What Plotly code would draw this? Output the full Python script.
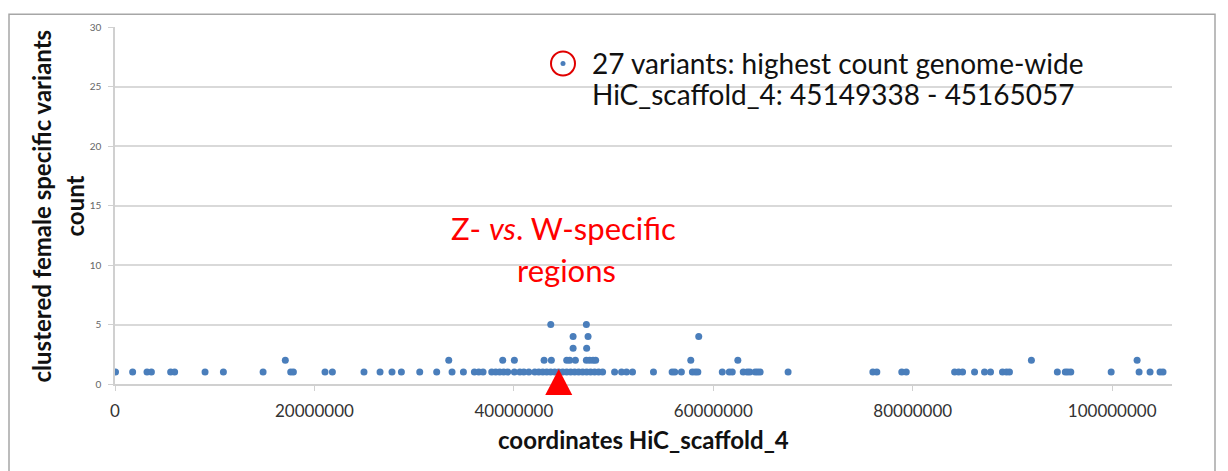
import numpy as np
import plotly.graph_objects as go

# ---- data (positions in Mb) ----
count1_mb = [0.05, 1.77, 3.21, 3.65, 5.58, 5.98, 9.03, 10.87, 14.85, 17.62, 17.89,
             21.06, 21.8, 24.97, 26.58, 27.78, 28.72, 30.56, 32.26, 33.8, 34.94,
             36.04, 36.48, 36.91, 37.78, 38.18, 38.58, 38.98, 39.38, 40.05, 40.6,
             41.0, 41.5, 42.1, 42.5, 42.9, 43.3, 43.7, 44.1, 44.5, 44.9, 45.3,
             45.7, 46.1, 46.5, 46.9, 47.3, 47.7, 48.1, 48.5, 48.9,
             50.1, 50.8, 51.3, 51.9, 54.0, 55.87, 56.14, 56.8, 57.9, 58.2, 58.45,
             60.9, 61.6, 61.9, 63.0, 63.4, 63.66, 64.2, 64.45, 64.7, 67.5,
             76.0, 76.4, 78.9, 79.35,
             84.2, 84.6, 85.0, 86.2, 87.2, 87.8, 89.0, 89.4, 89.7,
             94.5, 95.3, 95.55, 95.85, 99.9, 102.7, 103.8, 104.8, 105.1]
count2_mb = [17.08, 33.47, 38.88, 40.05, 43.03, 43.76, 45.3, 45.6, 46.17, 47.27,
             47.6, 47.94, 48.2, 57.74, 62.46, 91.9, 102.5]
count3_mb = [45.94, 47.3]
count4_mb = [45.94, 47.44, 58.54]
count5_mb = [43.7, 47.27]

x_ticks = [0, 20000000, 40000000, 60000000, 80000000, 100000000]
y_ticks = [0, 5, 10, 15, 20, 25, 30]
x_max = 106000000
zw_marker_pos = 44500000

highlight_line1 = "27 variants: highest count genome-wide"
highlight_line2 = "HiC_scaffold_4: 45149338 - 45165057"

groups = [(1, count1_mb), (2, count2_mb), (3, count3_mb), (4, count4_mb), (5, count5_mb)]
xs, ys = [], []
for c, arr in groups:
    xs.extend(np.array(arr) * 1e6)
    ys.extend([c] * len(arr))

FONT = "Lato"
BLUE = "#4a7ebb"

fig = go.Figure()
fig.add_trace(go.Scatter(x=xs, y=ys, mode="markers",
                         marker=dict(color=BLUE, size=7), showlegend=False,
                         hoverinfo="x+y"))

fig.update_layout(
    width=1220, height=463,
    margin=dict(l=107, r=56, t=14, b=87),
    paper_bgcolor="white", plot_bgcolor="white",
    font=dict(family=FONT, color="#222"),
    xaxis=dict(range=[0, x_max], tickvals=x_ticks,
               ticktext=[str(v) for v in x_ticks],
               showgrid=False, zeroline=False,
               showline=True, linecolor="#d0d0d0", linewidth=1.5,
               ticks="outside", ticklen=5, tickcolor="#d0d0d0",
               ticklabelstandoff=6,
               tickfont=dict(size=17, color="#333", family=FONT)),
    yaxis=dict(range=[0, 30], tickvals=y_ticks,
               showgrid=True, gridcolor="#d9d9d9", gridwidth=1.5,
               zeroline=False, showline=True, linecolor="#d0d0d0", linewidth=1.5,
               ticks="outside", ticklen=5, tickcolor="#d0d0d0",
               ticklabelstandoff=5,
               tickfont=dict(size=10, color="#666", family=FONT)),
)

# page-pixel -> paper helpers (plot area spans page x 115..1172, y 22..384)
def px_x(p):
    return (p - 115) / 1057.0

def px_y(p):
    return (384 - p) / 362.0

annos = [
    dict(text="<b>clustered female specific variants</b>", x=px_x(41), y=px_y(204),
         textangle=-90, font=dict(size=24, color="#111")),
    dict(text="<b>count</b>", x=px_x(74), y=px_y(204), textangle=-90,
         font=dict(size=24, color="#111")),
    dict(text="<b>coordinates HiC_scaffold_4</b>", x=px_x(643), y=px_y(440),
         font=dict(size=24, color="#111")),
    dict(text=highlight_line1, x=px_x(590), y=px_y(58), xanchor="left",
         font=dict(size=28, color="#111")),
    dict(text=highlight_line2, x=px_x(590), y=px_y(90), xanchor="left",
         font=dict(size=28, color="#111")),
    dict(text="Z- <i>vs</i>. W-specific", x=px_x(563), y=px_y(226),
         font=dict(size=31, color="#ff0000")),
    dict(text="regions", x=px_x(566), y=px_y(268),
         font=dict(size=31, color="#ff0000")),
]
for a in annos:
    a.update(xref="paper", yref="paper", showarrow=False)
    a.setdefault("xanchor", "center")
    a.setdefault("yanchor", "middle")
fig.update_layout(annotations=annos)

shapes = [
    # outer frame
    dict(type="rect", xref="paper", yref="paper",
         x0=px_x(9), x1=px_x(1215), y0=px_y(520), y1=px_y(9),
         line=dict(color="#a6a6a6", width=1.5), fillcolor="rgba(0,0,0,0)"),
    # red circle with dot
    dict(type="circle", xref="paper", yref="paper", xsizemode="pixel", ysizemode="pixel",
         xanchor=px_x(563), yanchor=px_y(59), x0=-12, x1=12, y0=-12, y1=12,
         line=dict(color="#e00000", width=2)),
    dict(type="circle", xref="paper", yref="paper", xsizemode="pixel", ysizemode="pixel",
         xanchor=px_x(563), yanchor=px_y(59), x0=-2.5, x1=2.5, y0=-2.5, y1=2.5,
         line=dict(color=BLUE, width=0), fillcolor=BLUE),
    # red triangle marker
    dict(type="path", xref="x", yref="paper", xsizemode="pixel", ysizemode="pixel",
         xanchor=zw_marker_pos, yanchor=0,
         path="M -13.5 -11 L 13.5 -11 L 0 15 Z",
         fillcolor="#ff0000", line=dict(color="#ff0000", width=0), layer="above"),
]
fig.update_layout(shapes=shapes)

fig.write_html("out.html")
